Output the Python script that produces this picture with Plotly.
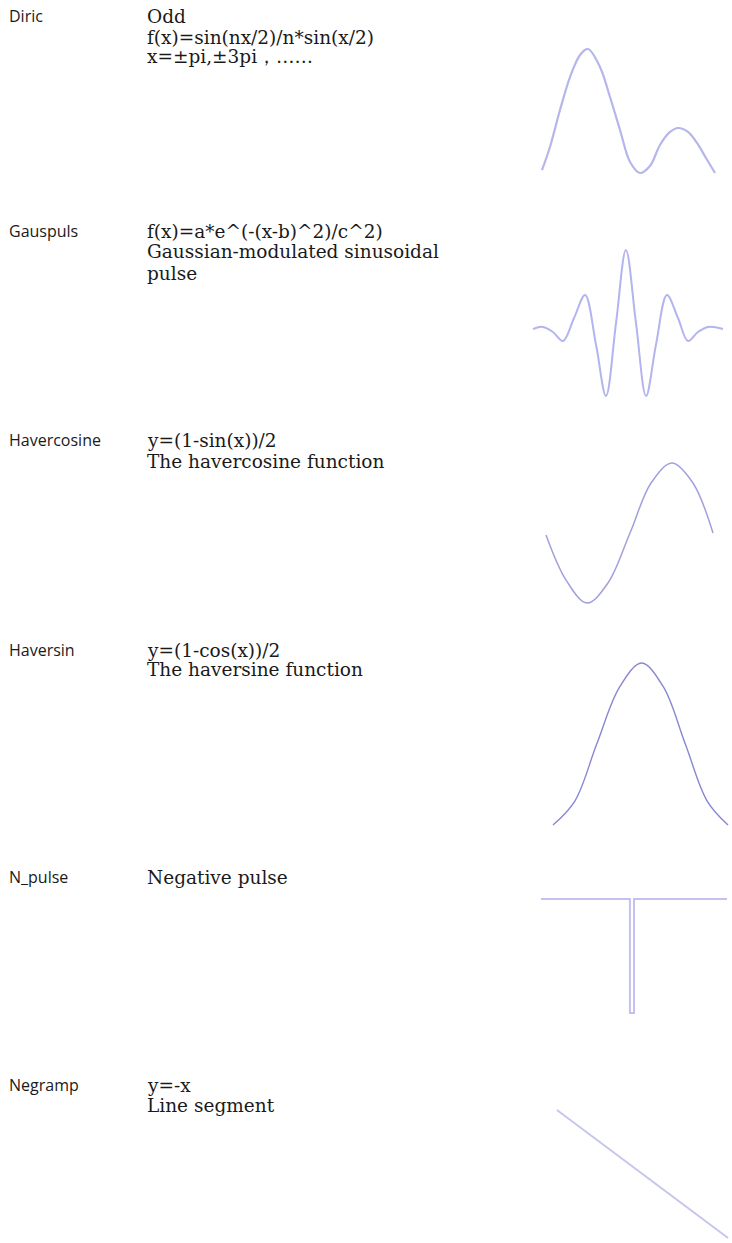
import plotly.graph_objects as go

W, H = 732, 1243

# ---- text content ----
labels = ["Diric", "Gauspuls", "Havercosine", "Haversin", "N_pulse", "Negramp"]
descriptions = [
    ["Odd", "f(x)=sin(nx/2)/n*sin(x/2)", "x=±pi,±3pi，……"],
    ["f(x)=a*e^(-(x-b)^2)/c^2)", "Gaussian-modulated sinusoidal", "pulse"],
    ["y=(1-sin(x))/2", "The havercosine function"],
    ["y=(1-cos(x))/2", "The haversine function"],
    ["Negative pulse"],
    ["y=-x", "Line segment"],
]

# ---- waveform samples (normalized 0..1) ----
diric_x = [0, 0.046, 0.104, 0.162, 0.220, 0.266, 0.335, 0.393, 0.451, 0.509,
           0.566, 0.624, 0.682, 0.740, 0.786, 0.844, 0.896, 0.948, 1.0]
diric_y = [0.024, 0.210, 0.508, 0.774, 0.952, 1.0, 0.855, 0.613, 0.347, 0.089,
           0.0, 0.056, 0.226, 0.331, 0.363, 0.331, 0.242, 0.121, 0.0]

gaus_x = [0, 0.053, 0.105, 0.158, 0.216, 0.274, 0.332, 0.384, 0.437, 0.489,
          0.542, 0.595, 0.647, 0.705, 0.763, 0.816, 0.868, 0.921, 1.0]
gaus_y = [0.459, 0.473, 0.438, 0.377, 0.534, 0.692, 0.349, 0.0, 0.5, 1.0,
          0.5, 0.0, 0.349, 0.692, 0.534, 0.377, 0.438, 0.473, 0.459]

haverc_x = [0, 0.120, 0.246, 0.371, 0.503, 0.629, 0.754, 0.880, 1.0]
haverc_y = [0.486, 0.164, 0.0, 0.143, 0.5, 0.857, 1.0, 0.857, 0.5]

havers_x = [0, 0.125, 0.25, 0.381, 0.506, 0.631, 0.756, 0.881, 1.0]
havers_y = [0.0, 0.148, 0.5, 0.852, 1.0, 0.852, 0.5, 0.148, 0.0]

npulse_x = [0, 0.478, 0.478, 0.5, 0.5, 1.0]
npulse_y = [1, 1, 0, 0, 1, 1]

negramp_x = [0, 1]
negramp_y = [1, 0]

# ---- layout of the thumbnails (pixel boxes of data extent) ----
panels = [
    dict(x=diric_x, y=diric_y, box=(542, 715, 49, 173), color="rgb(182,182,236)", width=2.2, shape="spline"),
    dict(x=gaus_x, y=gaus_y, box=(533, 723, 250, 396), color="rgb(180,180,238)", width=2.0, shape="spline"),
    dict(x=haverc_x, y=haverc_y, box=(546, 713, 463, 603), color="rgb(160,160,222)", width=1.5, shape="spline"),
    dict(x=havers_x, y=havers_y, box=(553, 729, 663, 825), color="rgb(135,135,210)", width=1.4, shape="spline"),
    dict(x=npulse_x, y=npulse_y, box=(541, 727, 899, 1013), color="rgb(196,192,242)", width=2.0, shape="linear"),
    dict(x=negramp_x, y=negramp_y, box=(557, 731, 1110, 1238), color="rgb(198,198,238)", width=2.0, shape="linear"),
]

fig = go.Figure()
pad = 4
for i, p in enumerate(panels):
    n = "" if i == 0 else str(i + 1)
    px0, px1, pyt, pyb = p["box"]
    fx = pad / (px1 - px0)
    fy = pad / (pyb - pyt)
    fig.add_trace(go.Scatter(
        x=p["x"], y=p["y"], mode="lines",
        line=dict(color=p["color"], width=p["width"], shape=p["shape"], smoothing=1.0),
        xaxis="x" + n, yaxis="y" + n, hoverinfo="skip", showlegend=False,
    ))
    xd = [max(0, (px0 - pad) / W), min(1, (px1 + pad) / W)]
    yd = [1 - (pyb + pad) / H, 1 - (pyt - pad) / H]
    fig.update_layout(**{
        "xaxis" + n: dict(domain=xd, range=[-fx, 1 + fx], visible=False, fixedrange=True),
        "yaxis" + n: dict(domain=yd, range=[-fy, 1 + fy], visible=False, fixedrange=True),
    })

# ---- text placement (pixel y centres) ----
row_y = [[16, 37, 57], [231, 252, 273], [440, 461], [650, 670], [877], [1085, 1105]]
annotations = []
for lab, descs, ys in zip(labels, descriptions, row_y):
    annotations.append(dict(
        x=7 / W, y=1 - ys[0] / H, xref="paper", yref="paper", text=lab, showarrow=False,
        xanchor="left", yanchor="middle", font=dict(family="Open Sans", size=16, color="#1a1a1a"),
    ))
    for d, yy in zip(descs, ys):
        annotations.append(dict(
            x=145 / W, y=1 - yy / H, xref="paper", yref="paper", text=d, showarrow=False,
            xanchor="left", yanchor="middle", font=dict(family="DejaVu Serif", size=18.5, color="#1a1a1a"),
        ))

fig.update_layout(
    width=W, height=H, margin=dict(l=0, r=0, t=0, b=0),
    paper_bgcolor="white", plot_bgcolor="rgba(0,0,0,0)",
    annotations=annotations,
)

fig.write_html(
    "out.html",
    config={"displayModeBar": False},
    post_script="document.body.style.margin='0';document.body.style.overflow='hidden';",
)
